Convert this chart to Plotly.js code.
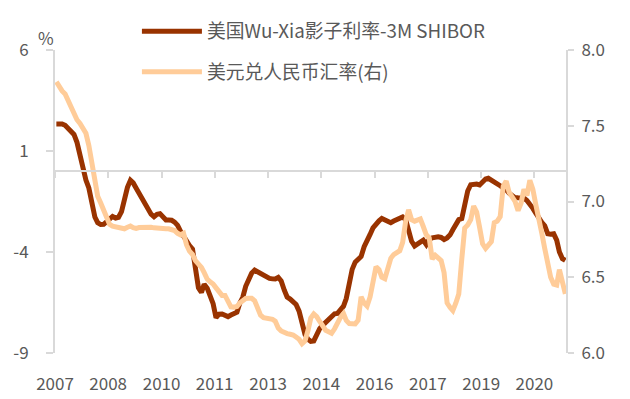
<!DOCTYPE html>
<html>
<head>
<meta charset="utf-8">
<script src="https://cdn.plot.ly/plotly-3.0.1.min.js"></script>
<style>html,body{margin:0;padding:0;background:#fff;}#chart{width:630px;height:399px;}</style>
</head>
<body>
<div id="chart"></div>
<script>
// Monthly categories 2007-01 .. 2021-05
const startYear = 2007, monthCount = 173;
const months = [];
for (let m = 0; m < monthCount; m++) {
  const y = startYear + Math.floor(m / 12), mo = (m % 12) + 1;
  months.push(y + '-' + (mo < 10 ? '0' + mo : mo) + '-15');
}

const seriesNames = ['美国Wu-Xia影子利率-3M SHIBOR', '美元兑人民币汇率(右)'];

const wuxiaMinusShibor = [
  2.34, 2.34, 2.34, 2.27, 2.13, 1.99, 1.82, 1.43, 0.74, 0.30,
  -0.44, -0.83, -1.50, -2.27, -2.55, -2.64, -2.63, -2.50, -2.35, -2.24,
  -2.32, -2.28, -2.00, -1.40, -0.80, -0.45, -0.58, -0.84, -1.09, -1.33,
  -1.61, -1.95, -2.13, -2.25, -2.13, -2.10, -2.30, -2.42, -2.42, -2.43,
  -2.52, -2.68, -2.98, -3.24, -3.49, -3.68, -3.86, -4.85, -5.77, -6.00,
  -5.60, -5.79, -6.11, -6.56, -7.25, -7.08, -7.07, -7.13, -7.20, -7.12,
  -7.06, -6.98, -6.54, -6.24, -5.70, -5.28, -5.05, -4.90, -4.98, -5.06,
  -5.15, -5.25, -5.31, -5.33, -5.34, -5.26, -5.43, -5.88, -6.23, -6.33,
  -6.46, -6.60, -6.93, -7.60, -8.08, -8.32, -8.42, -8.40, -8.04, -7.79,
  -7.63, -7.49, -7.34, -7.16, -7.06, -7.04, -6.87, -6.68, -6.30, -5.66,
  -4.86, -4.50, -4.33, -4.22, -3.74, -3.49, -3.13, -2.81, -2.61, -2.46,
  -2.34, -2.41, -2.48, -2.55, -2.47, -2.38, -2.30, -2.27, -2.40, -2.97,
  -3.47, -3.70, -3.60, -3.50, -3.42, -3.63, -3.38, -3.30, -3.27, -3.25,
  -3.28, -3.38, -3.30, -3.15, -2.90, -2.64, -2.40, -2.35, -1.71, -0.98,
  -0.67, -0.64, -0.64, -0.68, -0.53, -0.39, -0.35, -0.43, -0.50, -0.60,
  -0.72, -0.83, -0.92, -1.09, -1.24, -1.31, -1.32, -1.30, -1.33, -1.45,
  -1.60, -1.84, -2.08, -2.34, -2.53, -2.70, -3.10, -3.12, -3.10, -3.41,
  -4.00, -4.33, -4.42
];

const usdCny = [
  7.79, 7.755, 7.73, 7.71, 7.665, 7.625, 7.585, 7.54, 7.515, 7.48,
  7.45, 7.37, 7.24, 7.12, 7.035, 6.99, 6.95, 6.89, 6.85, 6.837,
  6.834, 6.83, 6.825, 6.82, 6.83, 6.838, 6.828, 6.823, 6.828, 6.83,
  6.83, 6.83, 6.83, 6.826, 6.823, 6.822, 6.821, 6.82, 6.82, 6.818,
  6.808, 6.79, 6.78, 6.79, 6.713, 6.672, 6.65, 6.61, 6.59, 6.565,
  6.53, 6.488, 6.47, 6.455, 6.43, 6.40, 6.38, 6.38, 6.345, 6.305,
  6.303, 6.307, 6.33, 6.35, 6.36, 6.361, 6.361, 6.345, 6.29, 6.25,
  6.233, 6.23, 6.226, 6.222, 6.21, 6.165, 6.145, 6.132, 6.128, 6.124,
  6.119, 6.105, 6.09, 6.062, 6.08, 6.15, 6.23, 6.258, 6.24, 6.208,
  6.175, 6.15, 6.14, 6.13, 6.16, 6.20, 6.235, 6.26, 6.215, 6.195,
  6.193, 6.192, 6.216, 6.37, 6.33, 6.31, 6.37, 6.47, 6.57, 6.55,
  6.50, 6.49, 6.56, 6.625, 6.65, 6.665, 6.675, 6.73, 6.87, 6.945,
  6.88, 6.87, 6.875, 6.885, 6.835, 6.78, 6.76, 6.62, 6.645, 6.63,
  6.61, 6.53, 6.33, 6.30, 6.28, 6.33, 6.39, 6.62, 6.825, 6.845,
  6.88, 6.97, 6.93, 6.83, 6.72, 6.69, 6.71, 6.735, 6.86, 6.87,
  6.90, 7.10, 7.135, 7.06, 7.03, 7.00, 6.94, 6.99, 7.08, 7.04,
  7.14, 7.08, 6.98, 6.86, 6.79, 6.69, 6.58, 6.50, 6.455, 6.449,
  6.55, 6.47, 6.39
];

const tickDates = ['2007-01-01','2008-07-01','2010-01-01','2011-07-01','2013-01-01',
                   '2014-07-01','2016-01-01','2017-07-01','2019-01-01','2020-07-01'];
const tickYears = ['2007','2008','2010','2011','2013','2014','2016','2017','2019','2020'];
const leftTicks = [6, 1, -4, -9];
const leftTickText = ['6', '1', '-4', '-9'];
const rightTicks = [6.0, 6.5, 7.0, 7.5, 8.0];

const FONT = '"Noto Sans CJK SC", "Noto Sans", sans-serif';
const TXT = '#595959';
const GRID = '#d9d9d9';
const xRange = ['2007-01-01', '2021-06-01'];

const traces = [
  {
    x: months, y: wuxiaMinusShibor, name: seriesNames[0], type: 'scatter', mode: 'lines',
    xaxis: 'x', yaxis: 'y', legend: 'legend',
    line: {color: '#993300', width: 5}
  },
  {
    x: months, y: usdCny, name: seriesNames[1], type: 'scatter', mode: 'lines',
    xaxis: 'x2', yaxis: 'y2', legend: 'legend2',
    line: {color: '#FFCC99', width: 5}
  }
];

const layout = {
  width: 630, height: 399,
  margin: {l: 55, r: 63, t: 50, b: 46, pad: 0},
  paper_bgcolor: '#fff', plot_bgcolor: '#fff',
  font: {family: FONT, color: TXT, size: 17},
  showlegend: true,
  xaxis: {
    type: 'date', range: xRange, anchor: 'y',
    showline: false, showgrid: false, zeroline: false, ticks: '',
    tickmode: 'array', tickvals: tickDates, ticktext: tickYears,
    tickfont: {family: FONT, size: 17, color: TXT}, ticklabelstandoff: 19
  },
  xaxis2: {
    type: 'date', range: xRange, overlaying: 'x', anchor: 'free', position: 0.6,
    showline: true, linecolor: GRID, linewidth: 2,
    showgrid: false, zeroline: false,
    ticks: 'outside', ticklen: 6, tickwidth: 2, tickcolor: GRID,
    tickmode: 'array', tickvals: tickDates, showticklabels: false
  },
  yaxis: {
    range: [-9, 6], tickmode: 'array', tickvals: leftTicks, ticktext: leftTickText,
    showline: true, linecolor: GRID, linewidth: 2,
    showgrid: false, zeroline: false,
    ticks: 'outside', ticklen: 7, tickwidth: 2, tickcolor: GRID,
    tickfont: {family: FONT, size: 17, color: TXT}, ticklabelstandoff: 14
  },
  yaxis2: {
    range: [6, 8], overlaying: 'y', side: 'right', anchor: 'free', position: 1,
    tickmode: 'array', tickvals: rightTicks, tickformat: '.1f',
    showline: true, linecolor: GRID, linewidth: 2,
    showgrid: false, zeroline: false,
    ticks: 'outside', ticklen: 6, tickwidth: 2, tickcolor: GRID,
    tickfont: {family: FONT, size: 17, color: TXT}, ticklabelstandoff: 4
  },
  legend: {
    x: 0.16, y: 1.124, xanchor: 'left', yanchor: 'top',
    bgcolor: 'rgba(0,0,0,0)', font: {family: FONT, size: 18.8, color: TXT},
    itemwidth: 60
  },
  legend2: {
    x: 0.16, y: 0.927, xanchor: 'left', yanchor: 'middle',
    bgcolor: 'rgba(0,0,0,0)', font: {family: FONT, size: 18.8, color: TXT},
    itemwidth: 60
  },
  annotations: [{
    text: '%', xref: 'paper', yref: 'paper', x: -0.018, y: 1.04,
    xanchor: 'center', yanchor: 'middle', showarrow: false,
    font: {family: FONT, size: 17, color: TXT}
  }]
};

Plotly.newPlot('chart', traces, layout, {displayModeBar: false, staticPlot: true});
</script>
</body>
</html>
